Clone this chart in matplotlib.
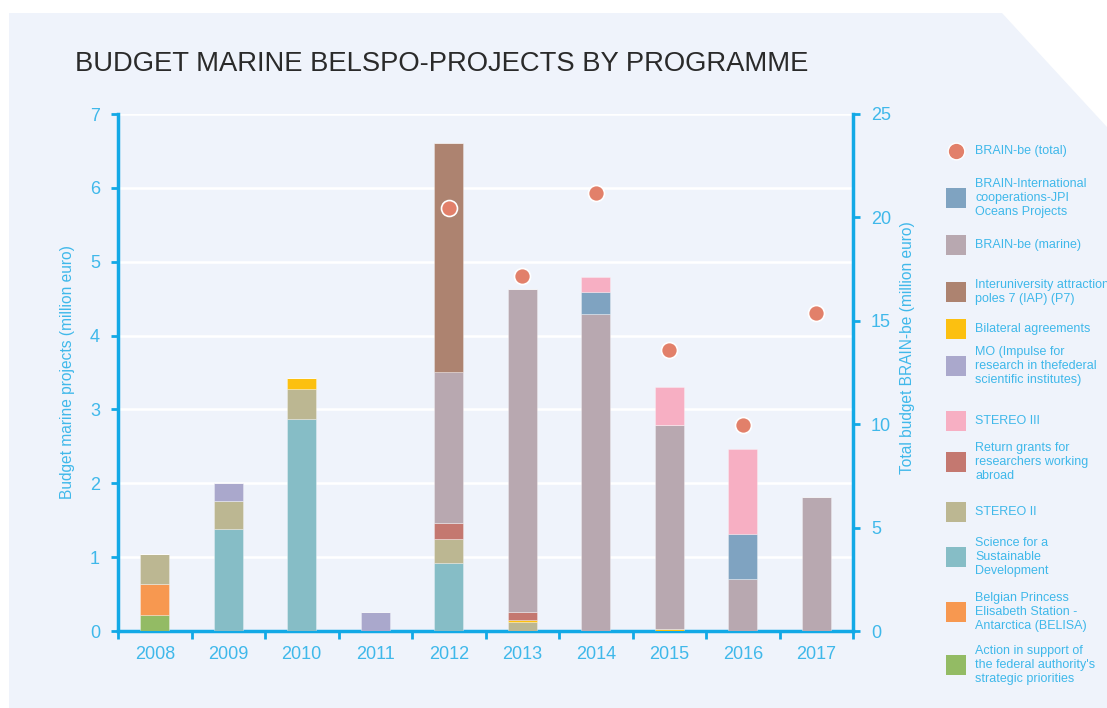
import numpy as np
import matplotlib
matplotlib.use('Agg')
import matplotlib.pyplot as plt
from matplotlib.patches import Polygon
from matplotlib.lines import Line2D

plt.rcParams['font.family'] = ['Liberation Sans', 'DejaVu Sans']

years = ['2008', '2009', '2010', '2011', '2012', '2013', '2014', '2015', '2016', '2017']

# stacked series, bottom to top (million euro)
action   = [0.22, 0, 0, 0, 0, 0, 0, 0, 0, 0]
belisa   = [0.42, 0, 0, 0, 0, 0, 0, 0, 0, 0]
ssd      = [0, 1.38, 2.87, 0, 0.92, 0, 0, 0, 0, 0]
stereo2  = [0.40, 0.38, 0.40, 0, 0.32, 0.12, 0, 0, 0, 0]
bilat    = [0, 0, 0.15, 0, 0, 0.03, 0, 0.03, 0, 0]
ret      = [0, 0, 0, 0, 0.22, 0.11, 0, 0, 0, 0]
mo       = [0, 0.24, 0, 0.26, 0, 0, 0, 0, 0, 0]
marine   = [0, 0, 0, 0, 2.05, 4.37, 4.29, 2.76, 0.70, 1.81]
iap      = [0, 0, 0, 0, 3.10, 0, 0, 0, 0, 0]
jpi      = [0, 0, 0, 0, 0, 0, 0.30, 0, 0.61, 0]
stereo3  = [0, 0, 0, 0, 0, 0, 0.20, 0.51, 1.16, 0]

# BRAIN-be total (right axis)
total = [np.nan, np.nan, np.nan, np.nan, 20.45, 17.15, 21.2, 13.6, 9.95, 15.4]

series = [
    (action, '#93bb64'),
    (belisa, '#f79850'),
    (ssd, '#86bdc6'),
    (stereo2, '#bcb792'),
    (bilat, '#fcc010'),
    (ret, '#c47870'),
    (mo, '#aaa8cc'),
    (marine, '#b8a8b0'),
    (iap, '#ad8370'),
    (jpi, '#7fa3c1'),
    (stereo3, '#f7afc3'),
]

legend_items = [
    ('BRAIN-be (total)', '#e2806a', 'o'),
    ('BRAIN-International\ncooperations-JPI\nOceans Projects', '#7fa3c1', 's'),
    ('BRAIN-be (marine)', '#b8a8b0', 's'),
    ('Interuniversity attraction\npoles 7 (IAP) (P7)', '#ad8370', 's'),
    ('Bilateral agreements', '#fcc010', 's'),
    ('MO (Impulse for\nresearch in thefederal\nscientific institutes)', '#aaa8cc', 's'),
    ('STEREO III', '#f7afc3', 's'),
    ('Return grants for\nresearchers working\nabroad', '#c47870', 's'),
    ('STEREO II', '#bcb792', 's'),
    ('Science for a\nSustainable\nDevelopment', '#86bdc6', 's'),
    ('Belgian Princess\nElisabeth Station -\nAntarctica (BELISA)', '#f79850', 's'),
    ('Action in support of\nthe federal authority\'s\nstrategic priorities', '#93bb64', 's'),
]
legend_y = [151, 198, 245, 292, 329, 366, 421, 462, 512, 557, 612, 665]

W, H = 1107, 708
panel = '#eff3fb'
axc = '#12a9e6'
tickc = '#3fb8ea'

fig = plt.figure(figsize=(W / 100, H / 100), dpi=100, facecolor='white')

pts = [(9, 13), (1002, 13), (1107, 127), (1107, 708), (9, 708)]
fig.add_artist(Polygon([(x / W, 1 - y / H) for x, y in pts], closed=True,
                       transform=fig.transFigure, facecolor=panel, edgecolor='none', zorder=0))

ax = fig.add_axes([118 / W, 1 - 631 / H, (853 - 118) / W, (631 - 114) / H])
ax.set_facecolor('none')

x = np.arange(len(years))
bottom = np.zeros(len(years))
for vals, col in series:
    v = np.array(vals)
    ax.bar(x, v, width=0.4, bottom=bottom, color=col, edgecolor=(1, 1, 1, 0.35),
           linewidth=0.6, zorder=3)
    bottom += v

ax.set_xlim(-0.5, len(years) - 0.5)
ax.set_ylim(0, 7)
ax.set_yticks(range(8))
ax.yaxis.grid(True, color='white', linewidth=1.8, zorder=0)
ax.set_axisbelow(True)

ax.set_xticks(np.arange(-0.5, len(years)), labels=[''] * (len(years) + 1))
ax.set_xticks(x, labels=years, minor=True)
ax.tick_params(axis='x', which='major', length=6, width=2, color=axc, direction='out')
ax.tick_params(axis='x', which='minor', length=0, pad=11, labelsize=13, labelcolor=tickc)
ax.tick_params(axis='y', length=5, width=2, color=axc, labelsize=13, labelcolor=tickc, pad=8)

for s in ['top', 'right']:
    ax.spines[s].set_visible(False)
for s in ['left', 'bottom']:
    ax.spines[s].set_color(axc)
    ax.spines[s].set_linewidth(2.5)

ax.set_ylabel('Budget marine projects (million euro)', color=tickc, fontsize=11.2, labelpad=11)

ax2 = ax.twinx()
ax2.set_ylim(0, 25)
ax2.set_yticks(range(0, 26, 5))
ax2.plot(x, total, linestyle='none', marker='o', markersize=11.5, markerfacecolor='#e2806a',
         markeredgecolor='white', markeredgewidth=1.2, zorder=5)
for s in ['top', 'left', 'bottom']:
    ax2.spines[s].set_visible(False)
ax2.spines['right'].set_color(axc)
ax2.spines['right'].set_linewidth(2.5)
ax2.tick_params(axis='y', length=5, width=2, color=axc, labelsize=13, labelcolor=tickc, pad=8)
ax2.set_ylabel('Total budget BRAIN-be (million euro)', color=tickc, fontsize=11.2)
ax2.yaxis.set_label_coords((908 - 118) / 735, (631 - 348) / 517)
ax2.yaxis.label.set_va('center')

fig.text(75 / W, 1 - 64 / H, 'BUDGET MARINE BELSPO-PROJECTS BY PROGRAMME',
         fontsize=19.7, color='#2a2a2a', va='center', ha='left')

for (lab, col, mk), yy in zip(legend_items, legend_y):
    fy = 1 - yy / H
    ms = 12 if mk == 'o' else 14
    fig.add_artist(Line2D([955.5 / W], [fy], marker=mk, markersize=ms, markerfacecolor=col,
                          markeredgecolor='white' if mk == 'o' else col,
                          markeredgewidth=1 if mk == 'o' else 0,
                          linestyle='none', transform=fig.transFigure))
    fig.text(975 / W, fy, lab, fontsize=9, color=tickc, va='center', ha='left',
             linespacing=1.25)

fig.savefig('out.png', dpi=100, facecolor='white')
